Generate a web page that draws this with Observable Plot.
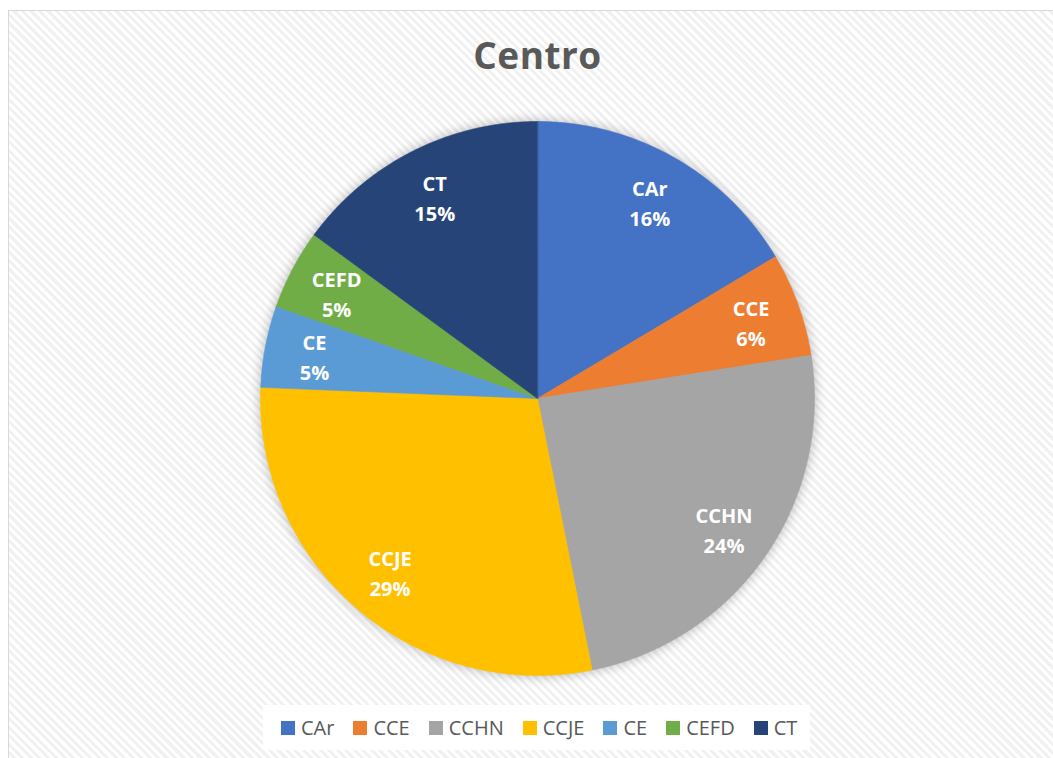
<!DOCTYPE html>
<html>
<head>
<meta charset="utf-8">
<script src="https://cdn.jsdelivr.net/npm/d3@7"></script>
<script src="https://cdn.jsdelivr.net/npm/@observablehq/plot@0.6"></script>
<style>
  html, body { margin: 0; padding: 0; background: #fff; width: 1053px; height: 758px; overflow: hidden; font-family: "Open Sans", sans-serif; }
  #frame { position: absolute; left: 8px; top: 10px; width: 1045px; height: 748px; border-left: 1px solid #d9d9d9; border-top: 1px solid #d9d9d9;
    background: repeating-linear-gradient(45deg, #ffffff 0px, #ffffff 3px, #f1f1f1 3px, #f1f1f1 6px); }
  #chart { position: absolute; left: 0; top: 0; }
  #chart svg { background: transparent; }
  #chart g[aria-label="line"] { filter: drop-shadow(0 0 6px rgba(0,0,0,0.28)); }
  #title { position: absolute; left: 0; top: 36px; width: 1075px; text-align: center; font-size: 37px; line-height: 37px; font-weight: 700; color: #595959; letter-spacing: 0.5px; }
  #legend { position: absolute; left: 263px; top: 705px; width: 547px; height: 45px; background: #fff; display: flex; align-items: center; padding-left: 18px; box-sizing: border-box; }
  .item { display: flex; align-items: center; margin-right: 19px; font-size: 20px; color: #595959; }
  .sw { width: 14px; height: 14px; margin-right: 6px; }
</style>
</head>
<body>
<div id="frame"></div>
<div id="chart"></div>
<div id="title">Centro</div>
<div id="legend"></div>
<script>
const categories = ["CAr", "CCE", "CCHN", "CCJE", "CE", "CEFD", "CT"];
const shares = [16.45, 6.05, 24.34, 28.8, 4.76, 4.66, 14.94];
const percentLabels = ["16%", "6%", "24%", "29%", "5%", "5%", "15%"];
const colors = ["#4472C4", "#ED7D31", "#A5A5A5", "#FFC000", "#5B9BD5", "#70AD47", "#264478"];

const arcs = d3.pie().sort(null)(shares);
const slicePoints = [];
const labels = [];
arcs.forEach((a, i) => {
  const cat = categories[i];
  const n = Math.max(4, Math.ceil((a.endAngle - a.startAngle) / 0.005));
  slicePoints.push({cat, x: 0, y: 0});
  for (let k = 0; k <= n; k++) {
    const ang = a.startAngle + (a.endAngle - a.startAngle) * k / n;
    slicePoints.push({cat, x: Math.sin(ang), y: Math.cos(ang)});
  }
  const mid = (a.startAngle + a.endAngle) / 2;
  const r = 0.82;
  labels.push({cat, x: r * Math.sin(mid), y: r * Math.cos(mid), text: cat + "\n" + percentLabels[i]});
});

const chart = Plot.plot({
  width: 1053,
  height: 758,
  margin: 0,
  x: {domain: [-1, 1], range: [260, 814], axis: null},
  y: {domain: [-1, 1], range: [675, 121], axis: null},
  color: {domain: categories, range: colors},
  marks: [
    Plot.line(slicePoints, {x: "x", y: "y", z: "cat", fill: "cat", stroke: "cat", strokeWidth: 0.6, curve: "linear-closed"}),
    Plot.text(labels, {x: "x", y: "y", text: "text", fill: "white", fontWeight: "bold", fontSize: 20, lineHeight: 1.5, fontFamily: "Open Sans"})
  ]
});
document.getElementById("chart").appendChild(chart);

const legend = document.getElementById("legend");
categories.forEach((c, i) => {
  const item = document.createElement("div");
  item.className = "item";
  const sw = document.createElement("div");
  sw.className = "sw";
  sw.style.background = colors[i];
  const t = document.createElement("span");
  t.textContent = c;
  item.appendChild(sw);
  item.appendChild(t);
  legend.appendChild(item);
});
</script>
</body>
</html>
